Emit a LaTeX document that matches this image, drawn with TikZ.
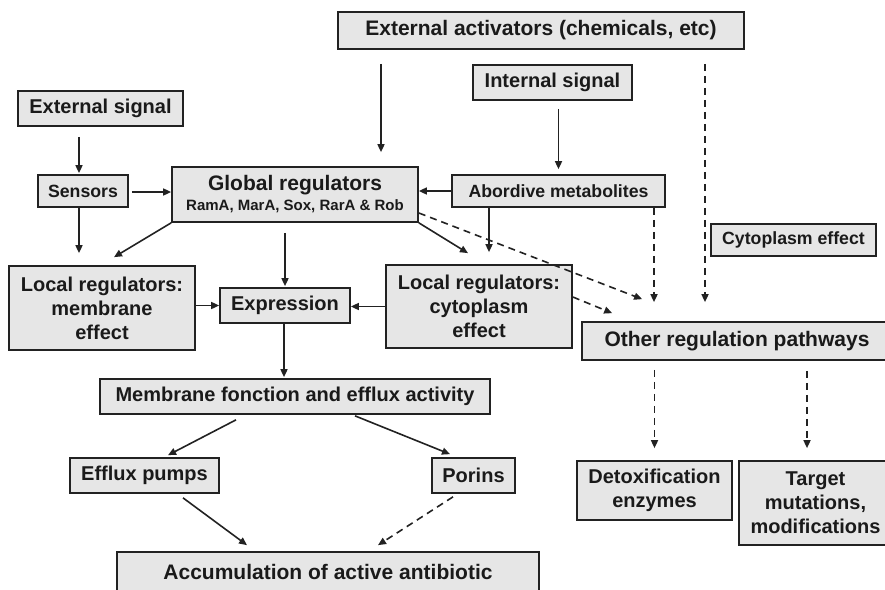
\documentclass[tikz,border=0pt]{standalone}
\usepackage{fontspec}
\setmainfont{Liberation Sans}
\usetikzlibrary{arrows.meta,calc}
\definecolor{boxfill}{HTML}{E6E6E6}
\definecolor{boxline}{HTML}{222222}
\definecolor{txt}{HTML}{1A1A1A}
\begin{document}
\begin{tikzpicture}[x=1pt,y=-1pt,
  box/.style={draw=boxline, fill=boxfill, line width=1.7pt, inner sep=0pt, align=center,
    text=txt, font=\bfseries\fontsize{20}{24}\selectfont},
  bigf/.style={font=\bfseries\fontsize{21}{24}\selectfont},
  smallf/.style={font=\bfseries\fontsize{17.7}{21}\selectfont},
  arr/.style={-{Triangle[length=8pt,width=7pt]}, line width=1.6pt, draw=boxline},
  darr/.style={arr, dash pattern=on 7pt off 5pt}]
\useasboundingbox (0,0) rectangle (885,589);
% nodes
\node[box, minimum width=406pt, minimum height=37pt, bigf] (act) at (541,30.5) {External activators (chemicals, etc)};
\node[box, minimum width=165pt, minimum height=35pt] (extsig) at (100.5,108.5) {External signal};
\node[box, minimum width=159pt, minimum height=35pt] (intsig) at (552.5,82.5) {Internal signal};
\node[box, minimum width=90pt, minimum height=32pt, smallf] (sensors) at (83,191) {Sensors};
\node[box, minimum width=246pt, minimum height=55pt, font=\bfseries\fontsize{21}{20}\selectfont] (glob) at (295,194.5)
  {Global regulators\\{\fontsize{15}{20}\selectfont RamA, MarA, Sox, RarA \& Rob}};
\node[box, minimum width=213pt, minimum height=32pt, smallf] (abord) at (558.5,191) {Abordive metabolites};
\node[box, minimum width=165pt, minimum height=32pt, smallf] (cyteff) at (793.5,240) {Cytoplasm effect};
\node[box, minimum width=186pt, minimum height=84pt] (locm) at (102,308) {Local regulators:\\membrane\\effect};
\node[box, minimum width=130pt, minimum height=35pt] (expr) at (285,305.5) {Expression};
\node[box, minimum width=186pt, minimum height=83pt] (locc) at (479,306.5) {Local regulators:\\cytoplasm\\effect};
\node[box, minimum width=310pt, minimum height=38pt, bigf] (other) at (737,341) {Other regulation pathways};
\node[box, minimum width=390pt, minimum height=35pt] (memb) at (295,396.5) {Membrane fonction and efflux activity};
\node[box, minimum width=149pt, minimum height=35pt] (efflux) at (144.5,475.5) {Efflux pumps};
\node[box, minimum width=83pt, minimum height=35pt] (porins) at (473.5,475.5) {Porins};
\node[box, minimum width=155pt, minimum height=59pt] (detox) at (654.5,490.5) {Detoxification\\enzymes};
\node[box, minimum width=153pt, minimum height=84pt] (target) at (815.5,503) {Target\\mutations,\\modifications};
\node[box, minimum width=422pt, minimum height=40pt, bigf] (accum) at (328,572) {Accumulation of active antibiotic};
% solid arrows
\draw[arr, shorten <=10pt, shorten >=1pt] (extsig.south -| 79,0) -- (sensors.north -| 79,0);
\draw[arr, shorten <=3pt] (sensors.east |- 0,192) -- (glob.west |- 0,192);
\draw[arr, shorten >=12pt] (sensors.south -| 79,0) -- (locm.north -| 79,0);
\draw[arr] (glob.south west) -- ($(locm.north)+(12,-8)$);
\draw[arr, shorten <=10pt, shorten >=1pt] (glob.south -| expr.north) -- (expr.north);
\draw[arr, shorten <=14pt, shorten >=14pt] (act.south -| 381,0) -- (glob.north -| 381,0);
\draw[arr] (abord.west) -- (glob.east |- abord.west);
\draw[arr, shorten <=8pt, shorten >=5pt] (intsig.south -| abord.north) -- (abord.north);
\draw[arr, shorten >=12pt] (abord.south -| 489,0) -- (locc.north -| 489,0);
\draw[arr] (glob.south east) -- ($(locc.north)+(-11,-11)$);
\draw[arr] (locc.west) -- (expr.east |- locc.west);
\draw[arr] (expr.west -| locm.east) -- (expr.west);
\draw[arr, shorten >=1pt] (expr.south -| 284,0) -- (memb.north -| 284,0);
\draw[arr] ($(memb.south)+(-59,5)$) -- ($(efflux.north)+(23.5,-2)$);
\draw[arr] ($(memb.south)+(60,1)$) -- ($(porins.north)+(-23.5,-3)$);
\draw[arr] ($(efflux.south)+(38.5,4)$) -- ($(accum.north)+(-81,-6)$);
% dashed arrows
\draw[darr] ($(glob.east)+(0,18.5)$) -- ($(other.north west)+(61,-22)$);
\draw[darr, shorten >=19pt] (abord.south -| 654,0) -- (other.north -| 654,0);
\draw[darr, shorten <=14pt, shorten >=19pt] (act.south -| 705,0) -- (other.north -| 705,0);
\draw[darr] ($(locc.east)+(0,-9.5)$) -- ($(other.north west)+(31,-8)$);
\draw[darr] ($(porins.south)+(-20.5,3)$) -- ($(accum.north)+(50,-6)$);
\draw[darr, shorten <=9pt, shorten >=12pt] (other.south -| detox.north) -- (detox.north);
\draw[darr, shorten <=10pt, shorten >=12pt] (other.south -| 807,0) -- (target.north -| 807,0);
\end{tikzpicture}
\end{document}
